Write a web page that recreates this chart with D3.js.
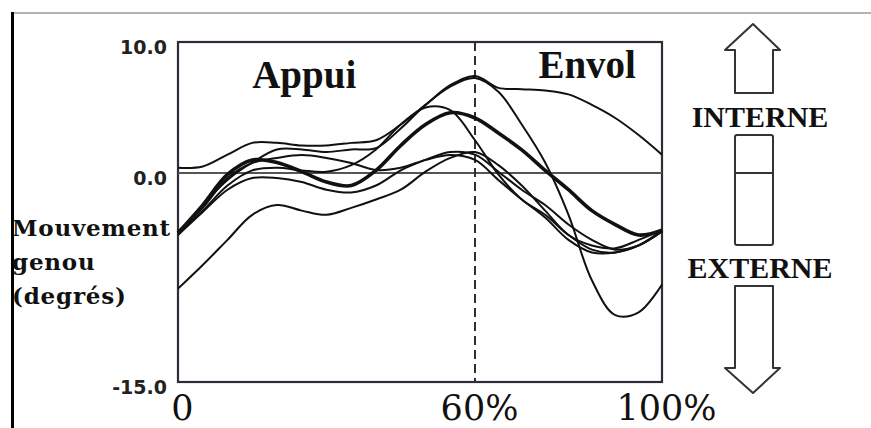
<!DOCTYPE html>
<html>
<head>
<meta charset="utf-8">
<script src="https://cdn.jsdelivr.net/npm/d3@7"></script>
<style>
  body { margin: 0; background: #fff; }
  svg { display: block; }
</style>
</head>
<body>
<svg id="chart" width="871" height="428"></svg>
<script>
// cycle position (% of stride) and knee rotation (degrees)
var cycle = [0, 5, 10, 15, 20, 25, 30, 35, 40, 45, 50, 55, 60, 65, 70, 75, 80, 85, 90, 95, 100];

var trial1 = [0.4, 0.5, 1.4, 2.3, 2.3, 2.1, 2.1, 2.3, 2.5, 3.7, 5.2, 6.7, 7.4, 6.5, 6.4, 6.3, 6.0, 5.2, 4.2, 2.9, 1.4];
var trial2 = [-4.45, -2.3, -0.5, 0.8, 1.8, 1.8, 1.6, 1.8, 1.9, 3.4, 5.2, 6.6, 7.25, 6.2, 3.7, 0.8, -3.0, -7.7, -10.2, -10.0, -8.0];
var trial3 = [-4.3, -2.7, -0.9, 0.2, 0.4, 0.2, 0.1, 0.6, 1.8, 3.7, 5.0, 4.8, 2.5, -0.1, -1.9, -3.0, -4.45, -5.5, -5.7, -5.2, -4.2];
var trial4 = [-4.45, -2.8, -1.2, -0.36, -0.36, -0.65, -1.2, -1.4, -0.9, 0.2, 1.0, 1.6, 1.4, 0.1, -1.2, -2.3, -3.7, -4.8, -5.5, -5.2, -4.2];
var trial5 = [-8.3, -6.6, -4.8, -3.0, -2.3, -2.7, -3.0, -2.5, -1.9, -1.2, 0.1, 1.15, 1.6, 0.6, -0.9, -2.7, -4.45, -5.2, -5.4, -4.8, -4.1];
var trial6 = [-4.2, -2.5, -0.36, 0.76, 1.15, 1.37, 1.15, 0.76, 0.23, 0.4, 1.0, 1.37, 1.0, -0.5, -1.9, -3.2, -4.8, -5.7, -5.7, -5.2, -4.1];
var mean = [-4.3, -2.3, -0.1, 1.0, 0.8, 0.1, -0.65, -0.9, 0.2, 2.1, 3.7, 4.6, 4.2, 3.05, 1.76, 0.2, -1.2, -2.7, -3.7, -4.45, -4.1];

var trials = [trial1, trial2, trial3, trial4, trial5, trial6];

var yTicks = [10, 0, -15];
var xTicks = [0, 60, 100];
var xTickLabels = ["0", "60%", "100%"];
var phaseLabels = ["Appui", "Envol"];
var yTitle = ["Mouvement", "genou", "(degrés)"];
var legendLabels = ["INTERNE", "EXTERNE"];

var svg = d3.select("#chart");
var ink = "#111";
var frameInk = "#2b2f3a";

// the scanned figure is not quite linear, so the scales get a middle stop
var x = d3.scaleLinear().domain([0, 60, 100]).range([178, 475, 662]);
var y = d3.scaleLinear().domain([-15, 0, 10]).range([382, 173, 42]);

// page edges of the scan
svg.append("line")
    .attr("x1", 11).attr("x2", 871).attr("y1", 13).attr("y2", 13)
    .attr("stroke", "#9a9a9a").attr("stroke-width", 1.5);
svg.append("line")
    .attr("x1", 12.5).attr("x2", 12.5).attr("y1", 12).attr("y2", 428)
    .attr("stroke", "#000").attr("stroke-width", 3);

// frame
svg.append("rect")
    .attr("x", x(0)).attr("y", y(10))
    .attr("width", x(100) - x(0)).attr("height", y(-15) - y(10))
    .attr("fill", "none").attr("stroke", frameInk).attr("stroke-width", 2.2);

// zero line and stance/swing split
svg.append("line")
    .attr("x1", x(0)).attr("x2", x(100)).attr("y1", y(0)).attr("y2", y(0))
    .attr("stroke", "#555").attr("stroke-width", 2);
svg.append("line")
    .attr("x1", x(60)).attr("x2", x(60)).attr("y1", y(10)).attr("y2", y(-15))
    .attr("stroke", frameInk).attr("stroke-width", 2)
    .attr("stroke-dasharray", "9,5");

var line = d3.line()
    .x(function (d, i) { return x(cycle[i]); })
    .y(function (d) { return y(d); })
    .curve(d3.curveCatmullRom.alpha(0.5));

svg.append("g").selectAll("path")
    .data(trials)
    .enter().append("path")
    .attr("d", line)
    .attr("fill", "none")
    .attr("stroke", ink)
    .attr("stroke-width", 2);

svg.append("path")
    .attr("d", line(mean))
    .attr("fill", "none")
    .attr("stroke", ink)
    .attr("stroke-width", 3.6);

// axes (labels only, the frame draws the lines)
var yAxis = svg.append("g")
    .attr("transform", "translate(" + (x(0) - 11) + ",0)")
    .call(d3.axisLeft(y).tickValues(yTicks).tickSize(0)
        .tickFormat(function (d) { return d.toFixed(1); }));
yAxis.select(".domain").remove();
yAxis.selectAll("text")
    .attr("x", 0)
    .attr("dy", function (d) { return d === 10 ? "0.6em" : "0.62em"; })
    .style("font-family", "'DejaVu Sans', sans-serif")
    .style("font-weight", "bold")
    .style("font-size", "19px")
    .style("fill", "#222");

var xAxis = svg.append("g")
    .attr("transform", "translate(4," + y(-15) + ")")
    .call(d3.axisBottom(x).tickValues(xTicks).tickSize(0)
        .tickFormat(function (d, i) { return xTickLabels[i]; }));
xAxis.select(".domain").remove();
xAxis.selectAll("text")
    .attr("y", 0)
    .attr("dy", "38px")
    .style("font-family", "'DejaVu Serif', serif")
    .style("font-size", "35px")
    .style("fill", "#111");

// phase labels
svg.append("g").selectAll("text")
    .data(phaseLabels)
    .enter().append("text")
    .attr("x", function (d, i) { return i === 0 ? x(25.5) : x(84); })
    .attr("y", function (d, i) { return i === 0 ? 88 : 78; })
    .attr("text-anchor", "middle")
    .text(function (d) { return d; })
    .style("font-family", "'Liberation Serif', serif")
    .style("font-weight", "bold")
    .style("font-size", "39px")
    .style("fill", "#111");

// y title
svg.append("g").selectAll("text")
    .data(yTitle)
    .enter().append("text")
    .attr("x", 12)
    .attr("y", function (d, i) { return 236 + i * 34; })
    .text(function (d) { return d; })
    .style("font-family", "'DejaVu Serif', serif")
    .style("font-weight", "bold")
    .style("font-size", "23px")
    .style("letter-spacing", "0.8px")
    .style("fill", "#111");

// right legend: arrows and bar
var legend = svg.append("g")
    .attr("fill", "none")
    .attr("stroke", "#333")
    .attr("stroke-width", 2)
    .attr("stroke-linejoin", "round");
legend.append("path")
    .attr("d", "M735,93 L735,50 L725,50 L753,24 L780,50 L773,50 L773,93 Z");
legend.append("rect")
    .attr("x", 735).attr("y", 135).attr("width", 38).attr("height", 110).attr("rx", 2);
legend.append("line")
    .attr("x1", 735).attr("x2", 773).attr("y1", y(0)).attr("y2", y(0));
legend.append("path")
    .attr("d", "M735,286 L735,368 L725,368 L753,393 L780,368 L773,368 L773,286 Z");

svg.append("g").selectAll("text")
    .data(legendLabels)
    .enter().append("text")
    .attr("x", 760)
    .attr("y", function (d, i) { return i === 0 ? 127 : 278; })
    .attr("text-anchor", "middle")
    .text(function (d) { return d; })
    .style("font-family", "'Liberation Serif', serif")
    .style("font-weight", "bold")
    .style("font-size", "30px")
    .style("fill", "#111");
</script>
</body>
</html>
